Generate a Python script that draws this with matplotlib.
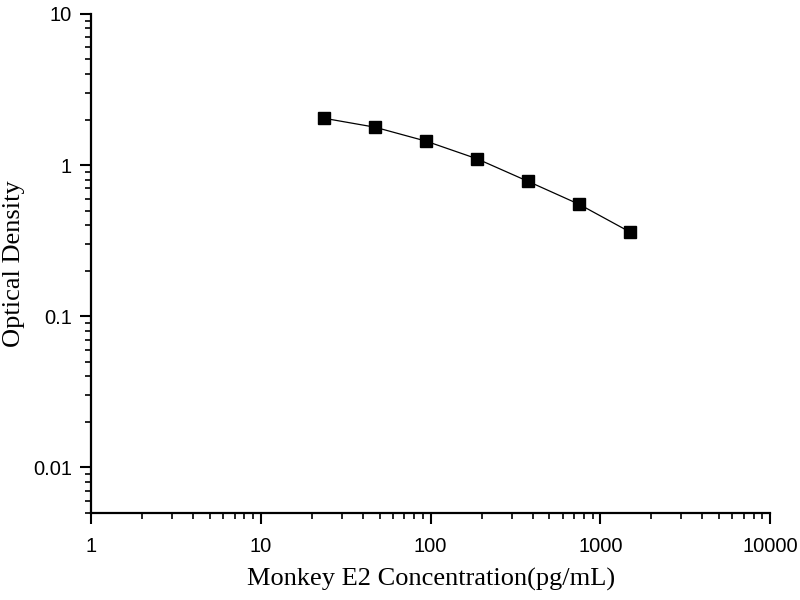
import matplotlib
matplotlib.use("Agg")
import matplotlib.pyplot as plt
from matplotlib.ticker import LogLocator, NullFormatter, FixedLocator, FixedFormatter

concentration = [23.44, 46.88, 93.75, 187.5, 375, 750, 1500]
od = [2.04, 1.78, 1.44, 1.10, 0.78, 0.55, 0.36]

x_ticks = [1, 10, 100, 1000, 10000]
x_labels = ["1", "10", "100", "1000", "10000"]
y_ticks = [0.01, 0.1, 1, 10]
y_labels = ["0.01", "0.1", "1", "10"]

fig = plt.figure(figsize=(8, 6), dpi=100)
ax = fig.add_axes([0.114, 0.145, 0.8485, 0.832])

ax.plot(concentration, od, color="black", lw=0.9, marker="s", ms=9,
        markerfacecolor="black", markeredgecolor="black")

ax.set_xscale("log")
ax.set_yscale("log")
ax.set_xlim(1, 10000)
ax.set_ylim(0.005, 10)

ax.xaxis.set_major_locator(FixedLocator(x_ticks))
ax.xaxis.set_major_formatter(FixedFormatter(x_labels))
ax.yaxis.set_major_locator(FixedLocator(y_ticks))
ax.yaxis.set_major_formatter(FixedFormatter(y_labels))
ax.xaxis.set_minor_locator(LogLocator(base=10, subs=range(2, 10)))
ax.yaxis.set_minor_locator(LogLocator(base=10, subs=range(2, 10)))
ax.xaxis.set_minor_formatter(NullFormatter())
ax.yaxis.set_minor_formatter(NullFormatter())

for side in ["top", "right"]:
    ax.spines[side].set_visible(False)
for side in ["left", "bottom"]:
    ax.spines[side].set_linewidth(1.6)

ax.tick_params(which="major", direction="out", length=8, width=1.5,
               labelsize=14.5, pad=6)
ax.tick_params(axis="x", which="major", pad=9)
ax.tick_params(which="minor", direction="out", length=4, width=1.2)
for lab in ax.get_xticklabels() + ax.get_yticklabels():
    lab.set_family("Liberation Sans")

ax.set_xlabel("Monkey E2 Concentration(pg/mL)", family="Liberation Serif",
              fontsize=19)
ax.set_ylabel("Optical Density", family="Liberation Serif", fontsize=19)
ax.xaxis.set_label_coords(0.5, -0.11)
ax.yaxis.set_label_coords(-0.097, 0.5)

fig.savefig("out.png", dpi=100)
